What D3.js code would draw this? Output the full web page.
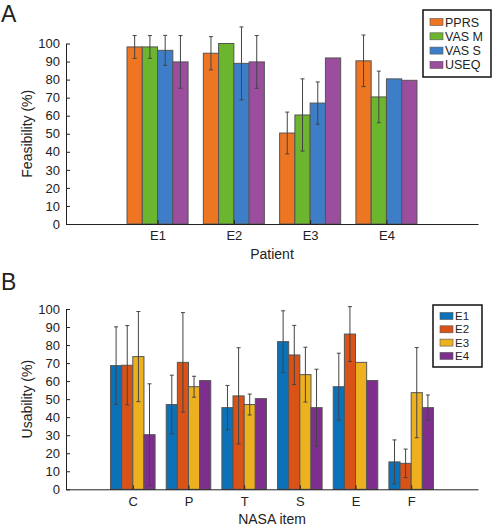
<!DOCTYPE html>
<html>
<head>
<meta charset="utf-8">
<script src="https://cdn.jsdelivr.net/npm/d3@7"></script>
<style>
  body { margin: 0; background: #fff; }
  svg text { font-family: "Liberation Sans", Arial, sans-serif; fill: #222; }
</style>
</head>
<body>
<div id="chart"></div>
<script>
// Panel A - feasibility per patient
const patients = ["E1", "E2", "E3", "E4"];
const feasMeasures = ["PPRS", "VAS M", "VAS S", "USEQ"];
const pprsMean = [98.1, 94.6, 50.4, 90.4];
const pprsErr = [6.3, 9.2, 11.6, 14.3];
const vasMMean = [98.1, 100, 60.4, 70.4];
const vasMErr = [6.3, null, 20, 14.3];
const vasSMean = [96.2, 89, 67, 80.4];
const vasSErr = [8.3, 20.2, 11.7, null];
const useqMean = [89.8, 89.8, 92, 79.6];
const useqErr = [14.6, 14.6, null, null];

// Panel B - usability per NASA item
const nasaItems = ["C", "P", "T", "S", "E", "F"];
const expLabels = ["E1", "E2", "E3", "E4"];
const e1Mean = [68.6, 47, 45.3, 81.9, 56.9, 15.2];
const e1Err = [21.5, 16.3, 12.3, 17.1, 18.6, 12.2];
const e2Mean = [68.8, 70.4, 51.8, 74.5, 86.1, 14.4];
const e2Err = [22, 27.6, 26.7, 16.4, 15.2, 7.9];
const e3Mean = [73.6, 56.9, 47, 63.6, 70.4, 53.6];
const e3Err = [25, 5.8, 5.8, 15.2, null, 25];
const e4Mean = [30.3, 60.3, 50.3, 45.3, 60.3, 45.3];
const e4Err = [28.2, null, null, 21.3, null, 7];

const yTicks = d3.range(0, 101, 10);

const svg = d3.select("#chart")
  .append("svg")
  .attr("width", 498)
  .attr("height", 526);

function drawPanel(opt) {
  const g = svg.append("g");
  const n = opt.categories.length;

  // scales
  const x = d3.scaleLinear().domain([-0.2, n + 1.2]).range([66, 478]);
  const y = d3.scaleLinear().domain([0, 100]).range([opt.y0, opt.y100]);
  const barW = x(0.2) - x(0);

  // bars + error bars, one series at a time
  opt.means.forEach((means, s) => {
    const off = (s - 1.5) * 0.2;
    const bars = g.append("g");
    bars.selectAll("rect")
      .data(means)
      .join("rect")
      .attr("x", (d, i) => x(i + 1 + off) - barW / 2)
      .attr("y", d => y(d))
      .attr("width", barW)
      .attr("height", d => y(0) - y(d))
      .attr("fill", opt.colors[s])
      .attr("stroke", "#555")
      .attr("stroke-width", 1);

    const errs = opt.errs[s].map((e, i) => ({ i: i, m: means[i], e: e })).filter(d => d.e != null);
    const eg = bars.selectAll("g.err")
      .data(errs)
      .join("g")
      .attr("class", "err")
      .attr("stroke", "#444")
      .attr("stroke-width", 1);
    eg.append("line")
      .attr("x1", d => x(d.i + 1 + off)).attr("x2", d => x(d.i + 1 + off))
      .attr("y1", d => y(d.m - d.e)).attr("y2", d => y(d.m + d.e));
    eg.append("line")
      .attr("x1", d => x(d.i + 1 + off) - 2).attr("x2", d => x(d.i + 1 + off) + 2)
      .attr("y1", d => y(d.m + d.e)).attr("y2", d => y(d.m + d.e));
    eg.append("line")
      .attr("x1", d => x(d.i + 1 + off) - 2).attr("x2", d => x(d.i + 1 + off) + 2)
      .attr("y1", d => y(d.m - d.e)).attr("y2", d => y(d.m - d.e));
  });

  // X axis
  const xAxis = g.append("g")
    .attr("transform", "translate(0," + y(0) + ")")
    .call(d3.axisBottom(x)
      .tickValues(d3.range(1, n + 1))
      .tickFormat(d => opt.categories[d - 1])
      .tickSize(-4).tickSizeOuter(0).tickPadding(7));
  xAxis.selectAll("text").attr("font-size", 13);

  // Y axis
  const yAxis = g.append("g")
    .attr("transform", "translate(66,0)")
    .call(d3.axisLeft(y)
      .tickValues(yTicks)
      .tickSize(-4).tickSizeOuter(0).tickPadding(6));
  yAxis.selectAll("text").attr("font-size", 13);
  g.selectAll(".domain, .tick line").attr("stroke", "#222");

  // axis titles
  g.append("text")
    .attr("x", 272)
    .attr("y", y(0) + 34.5)
    .attr("text-anchor", "middle")
    .attr("font-size", 14)
    .text(opt.xTitle);
  g.append("text")
    .attr("transform", "translate(32," + (opt.y0 + opt.y100) / 2 + ") rotate(-90)")
    .attr("text-anchor", "middle")
    .attr("font-size", 14)
    .text(opt.yTitle);

  // panel letter
  g.append("text")
    .attr("x", 1)
    .attr("y", opt.letterY)
    .attr("font-size", 23)
    .text(opt.letter);

  // legend
  const lg = g.append("g");
  lg.append("rect")
    .attr("x", opt.leg.x).attr("y", opt.leg.y)
    .attr("width", opt.leg.w).attr("height", opt.leg.h)
    .attr("fill", "#fff").attr("stroke", "#111").attr("stroke-width", 1.5);
  opt.series.forEach((name, s) => {
    const cy = opt.leg.y + opt.leg.first + s * opt.leg.step;
    lg.append("rect")
      .attr("x", opt.leg.x + 7).attr("y", cy - 3.5)
      .attr("width", 13).attr("height", 7)
      .attr("fill", opt.colors[s]).attr("stroke", "#555").attr("stroke-width", 0.6);
    lg.append("text")
      .attr("x", opt.leg.x + 22).attr("y", cy + opt.leg.font * 0.36)
      .attr("font-size", opt.leg.font)
      .text(name);
  });
}

drawPanel({
  letter: "A", letterY: 21.5,
  categories: patients,
  series: feasMeasures,
  means: [pprsMean, vasMMean, vasSMean, useqMean],
  errs: [pprsErr, vasMErr, vasSErr, useqErr],
  colors: ["#ee7623", "#6cb52f", "#3e7ec8", "#9a4e9d"],
  y0: 224, y100: 43.5,
  xTitle: "Patient", yTitle: "Feasibility (%)",
  leg: { x: 423, y: 10, w: 68, h: 67, first: 12, step: 14.3, font: 12.5 }
});

drawPanel({
  letter: "B", letterY: 289.5,
  categories: nasaItems,
  series: expLabels,
  means: [e1Mean, e2Mean, e3Mean, e4Mean],
  errs: [e1Err, e2Err, e3Err, e4Err],
  colors: ["#0b72b9", "#d95319", "#edb120", "#7e2f8e"],
  y0: 489.3, y100: 309,
  xTitle: "NASA item", yTitle: "Usability (%)",
  leg: { x: 433, y: 305, w: 49, h: 62, first: 11, step: 13.3, font: 11.5 }
});
</script>
</body>
</html>
